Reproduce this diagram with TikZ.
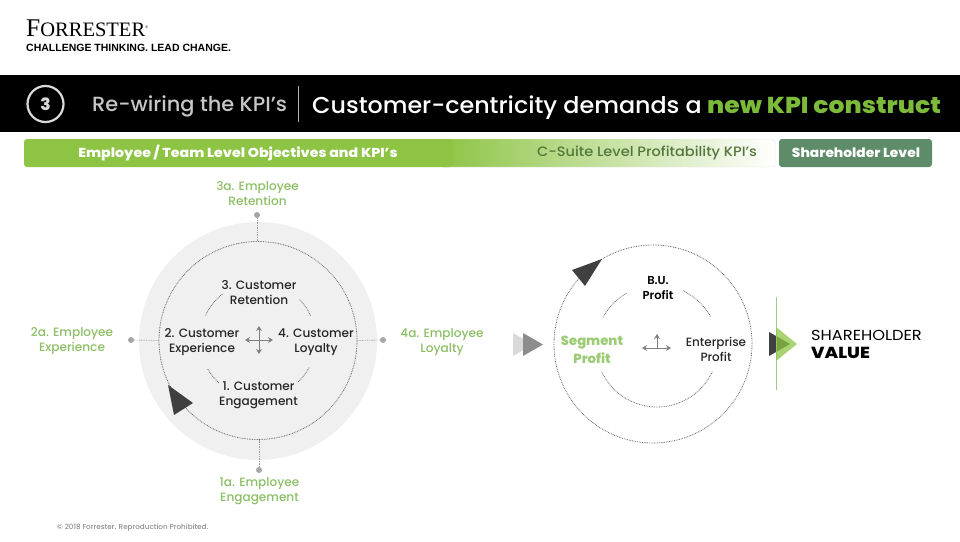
\documentclass[tikz,border=0pt]{standalone}
\usepackage{fontspec}
\usetikzlibrary{arrows.meta}
\setmainfont{Poppins Medium}
\newfontfamily\popx{Poppins ExtraBold}
\newfontfamily\popb{Poppins}[BoldFont={Poppins SemiBold}]
\newfontfamily\logoserif{Liberation Serif}
\newfontfamily\logosans{Liberation Sans}
\definecolor{kgreen}{RGB}{141,196,68}
\definecolor{tgreen}{RGB}{124,187,58}
\definecolor{lblgreen}{RGB}{139,190,100}
\definecolor{seggreen}{RGB}{155,203,115}
\definecolor{sgreen}{RGB}{94,140,105}
\definecolor{darktri}{RGB}{64,64,64}
\definecolor{dotgray}{RGB}{105,105,105}
\definecolor{csuite}{RGB}{84,120,60}
\newcommand{\inarc}[5]{\draw[dotline] plot[domain=#4:#5,samples=30] ({#1+#3*cos(\x)},{#2-#3*sin(\x)});}
\tikzset{
  txt/.style={align=center,inner sep=0pt,font=\fontsize{12.1}{15}\selectfont,text=black!85},
  kpi/.style={txt,text=lblgreen},
  dotline/.style={draw=dotgray,line width=0.8pt,dash pattern=on 0.8pt off 0.9pt},
  spoke/.style={draw=black!38,line width=0.7pt,dash pattern=on 0.8pt off 0.9pt},
  enddot/.style={circle,fill=black!35,minimum size=6pt,inner sep=0pt},
  ring/.style={circle,dotline,minimum size=198pt,inner sep=0pt,outer sep=0pt},
  cross/.style={draw=black!50,line width=1pt,{Stealth[length=5pt,width=6pt]}-{Stealth[length=5pt,width=6pt]}},
  crossup/.style={draw=black!50,line width=1pt,-{Stealth[length=5pt,width=6pt]}},
  bartxt/.style={inner sep=0pt,font=\popx\fontsize{13}{15}\selectfont,text=white},
}
\begin{document}
\begin{tikzpicture}[x=1pt,y=-1pt]
\useasboundingbox (0,0) rectangle (960,541);
% logo
\node[anchor=base west,inner sep=0pt] (logo) at (26,36) {\logoserif\fontsize{25.5}{25}\selectfont F\fontsize{20.5}{25}\selectfont ORRESTER\raisebox{8pt}{\fontsize{4}{4}\selectfont ®}};
\node[anchor=base west,inner sep=0pt] (tag) at (26,51) {\logosans\bfseries\fontsize{10.5}{12}\selectfont CHALLENGE THINKING. LEAD CHANGE.};
% header band
\fill[black] (0,75) rectangle (960,132);
\node[circle,draw=black!15,line width=2.2pt,minimum size=36pt,inner sep=0pt,text=black!15,font=\popx\fontsize{17}{17}\selectfont] (num) at (45.5,104) {3};
\node[anchor=base west,inner sep=0pt,text=black!22,font=\fontsize{20.5}{20}\selectfont] (rew) at (92,111.5) {\addfontfeature{FakeStretch=1.02}Re-wiring the KPI’s};
\draw[black!30,line width=0.6pt] (298,86) -- (298,122);
\node[anchor=base west,inner sep=0pt,text=white,font=\fontsize{23}{22}\selectfont] (cust) at (312,113.5) {\addfontfeature{FakeStretch=1.035}Customer-centricity demands a};
\node[anchor=base west,inner sep=0pt,text=tgreen,font=\popx\fontsize{23}{22}\selectfont] (kpic) at (707,113.5) {\addfontfeature{FakeStretch=1.09}new KPI construct};
% bars
\shade[left color=kgreen,right color=white,rounded corners=3pt,draw=black!10] (440,139) rectangle (775,167);
\fill[kgreen,rounded corners=3pt] (24,139) rectangle (452,167);
\fill[sgreen,rounded corners=3pt] (779,139) rectangle (932,167);
\node[bartxt] (b1) at (238,153) {\addfontfeature{FakeStretch=1.09}Employee / Team Level Objectives and KPI’s};
\node[bartxt,font=\fontsize{13.6}{15}\selectfont,text=csuite] (b2) at (647,153) {\addfontfeature{FakeStretch=1.07}C-Suite Level Profitability KPI’s};
\node[bartxt] (b3) at (856,153) {\addfontfeature{FakeStretch=1.06}Shareholder Level};
% left diagram
\node[circle,fill=black!6,minimum size=238pt,inner sep=0pt] (disk) at (258,341) {};
\node[ring] (lring) at (258,340.5) {};
\node[enddot] (dt) at (257,215) {};
\node[enddot] (db) at (259,470) {};
\node[enddot] (dl) at (131,340) {};
\node[enddot] (dr) at (383,340) {};
\draw[spoke] (dt) -- (lring.north -| dt);
\draw[spoke] (db) -- (lring.south -| db);
\draw[spoke] (dl) -- (lring.west);
\draw[spoke] (dr) -- (lring.east);
\inarc{258}{340}{58}{128}{155}
\inarc{258}{340}{58}{25}{44}
\inarc{258}{340}{58}{210}{228}
\inarc{258}{340}{58}{314}{332}
\fill[darktri] (168,385) -- (193,403) -- (174,415) -- cycle;
\node[txt] (n3) at (259,292.5) {3. Customer\\Retention};
\node[txt] (n2) at (202,342) {2. Customer\\Experience};
\node[txt] (n4) at (316,342) {4. Customer\\Loyalty};
\node[txt] (n1) at (258.5,395) {1. Customer\\Engagement};
\coordinate (cx) at (259,340);
\draw[cross] (245,340) -- (273,340);
\draw[cross] (259,326) -- (259,354);
\node[kpi] (k3) at (257.5,194) {3a. Employee\\Retention};
\node[kpi] (k2) at (72,341.5) {2a. Employee\\Experience};
\node[kpi] (k4) at (442,342) {4a. Employee\\Loyalty};
\node[kpi] (k1) at (259.5,491) {1a. Employee\\Engagement};
% flow arrows
\fill[black!15] (513,333) -- (513,356) -- (533,344.5) -- cycle;
\fill[black!45] (523,333) -- (523,356) -- (543,344.5) -- cycle;
% right diagram
\node[ring] (rring) at (653,344) {};
\fill[darktri] (572,270) -- (602,259) -- (585,286) -- cycle;
\inarc{657}{346}{61}{120}{152}
\inarc{657}{346}{61}{29}{65}
\inarc{657}{346}{61}{205}{335}
\node[txt,font=\popb\bfseries\fontsize{11.5}{15}\selectfont,text=black] (bu) at (658,288) {B.U.\\Profit};
\node[txt,font=\popx\fontsize{13.2}{18}\selectfont,text=seggreen] (seg) at (592,350) {Segment\\Profit};
\node[txt,font=\fontsize{12}{15}\selectfont] (ent) at (716,349) {Enterprise\\Profit};
\coordinate (ox) at (657,348);
\draw[cross] (642,348) -- (671,348);
\draw[crossup] (ox) -- (657,334);
% shareholder
\fill[darktri] (769,332) -- (769,356) -- (790,344) -- cycle;
\draw[lblgreen!80,line width=1pt] (776.5,297) -- (776.5,390);
\fill[kgreen,opacity=0.75] (776,327) -- (776,361) -- (797,344) -- cycle;
\node[anchor=base west,inner sep=0pt,font=\popb\fontsize{14.5}{15}\selectfont,text=black] (sh) at (811,340) {\addfontfeature{FakeStretch=1.12}SHAREHOLDER};
\node[anchor=base west,inner sep=0pt,font=\popx\fontsize{16}{15}\selectfont,text=black] (val) at (811,358) {\addfontfeature{FakeStretch=1.13}VALUE};
% footer
\node[anchor=base west,inner sep=0pt,font=\fontsize{7.2}{8}\selectfont,text=black!45] (foot) at (57,529) {© 2018 Forrester. Reproduction Prohibited.};
\end{tikzpicture}
\end{document}
